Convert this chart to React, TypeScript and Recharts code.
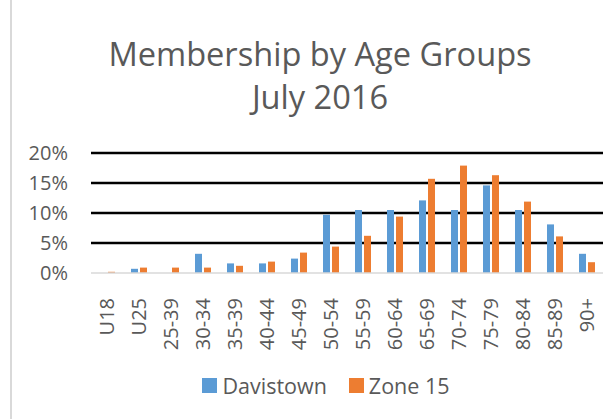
import { BarChart, Bar, XAxis, YAxis, CartesianGrid, Legend } from 'recharts';

const AGE_GROUPS = ['U18', 'U25', '25-39', '30-34', '35-39', '40-44', '45-49', '50-54', '55-59', '60-64', '65-69', '70-74', '75-79', '80-84', '85-89', '90+'];
const DAVISTOWN = [0, 0.7, 0, 3.2, 1.6, 1.6, 2.4, 9.7, 10.5, 10.5, 12.1, 10.5, 14.6, 10.5, 8.1, 3.2];
const ZONE_15 = [0.2, 0.9, 0.9, 0.9, 1.2, 1.9, 3.4, 4.4, 6.2, 9.4, 15.7, 17.9, 16.3, 11.9, 6.1, 1.8];
const Y_TICKS = [0, 5, 10, 15, 20];

const BLUE = '#5B9BD5';
const ORANGE = '#ED7D31';
const TEXT = '#595959';
const FONT = '"Open Sans", sans-serif';

const data = AGE_GROUPS.map((group, i) => ({
  group,
  davistown: DAVISTOWN[i],
  zone15: ZONE_15[i],
}));

// rotated category labels, reading bottom-to-top like Excel
const AgeTick = ({ x, y, payload }: any) => (
  <g transform={`translate(${x},${y + 17}) rotate(-90)`}>
    <text textAnchor="end" dy="0.36em" fill={TEXT} fontSize={20} fontFamily={FONT}>
      {payload.value}
    </text>
  </g>
);

const LegendBox = ({ payload }: any) => (
  <div style={{ display: 'flex', justifyContent: 'center', alignItems: 'center', height: 26, paddingLeft: 47, fontFamily: FONT, fontSize: 21.5, color: TEXT }}>
    {(payload || []).map((p: any, i: number) => (
      <div key={p.value} style={{ display: 'flex', alignItems: 'center', marginLeft: i ? 22 : 0 }}>
        <span style={{ display: 'inline-block', width: 15, height: 15, background: p.color, marginRight: 5 }} />
        <span>{p.value}</span>
      </div>
    ))}
  </div>
);

export default function App() {
  return (
    <div style={{ position: 'absolute', left: 0, top: 0, width: 605, height: 419, background: '#fff', overflow: 'hidden' }}>
      <div style={{ position: 'absolute', left: 10, top: 0, width: 2, height: 419, background: '#d9d9d9' }} />
      <div style={{ position: 'absolute', left: 35, top: 32, width: 570, textAlign: 'center', fontFamily: FONT, fontSize: 32.6, lineHeight: '43px', color: TEXT }}>
        <div>Membership by Age Groups</div>
        <div>July 2016</div>
      </div>
      <BarChart
        width={605}
        height={419}
        data={data}
        margin={{ top: 153, right: 2, left: 0, bottom: 20 }}
        barSize={7}
        barGap={2}
      >
        <CartesianGrid vertical={false} horizontalValues={[5, 10, 15, 20]} stroke="#000" strokeWidth={2.5} />
        <XAxis
          dataKey="group"
          interval={0}
          height={100}
          tickLine={false}
          axisLine={{ stroke: '#d9d9d9', strokeWidth: 1.5 }}
          tick={<AgeTick />}
        />
        <YAxis
          width={91}
          domain={[0, 20]}
          ticks={Y_TICKS}
          tickFormatter={(v) => `${v}%`}
          tickLine={false}
          axisLine={false}
          tickSize={0}
          tickMargin={23}
          tick={{ fill: TEXT, fontSize: 20, fontFamily: FONT }}
        />
        <Legend
          verticalAlign="bottom"
          content={<LegendBox />}
          wrapperStyle={{ top: 372, left: 0, width: 605, height: 26 }}
        />
        <Bar dataKey="davistown" name="Davistown" fill={BLUE} isAnimationActive={false} />
        <Bar dataKey="zone15" name="Zone 15" fill={ORANGE} isAnimationActive={false} />
      </BarChart>
    </div>
  );
}
